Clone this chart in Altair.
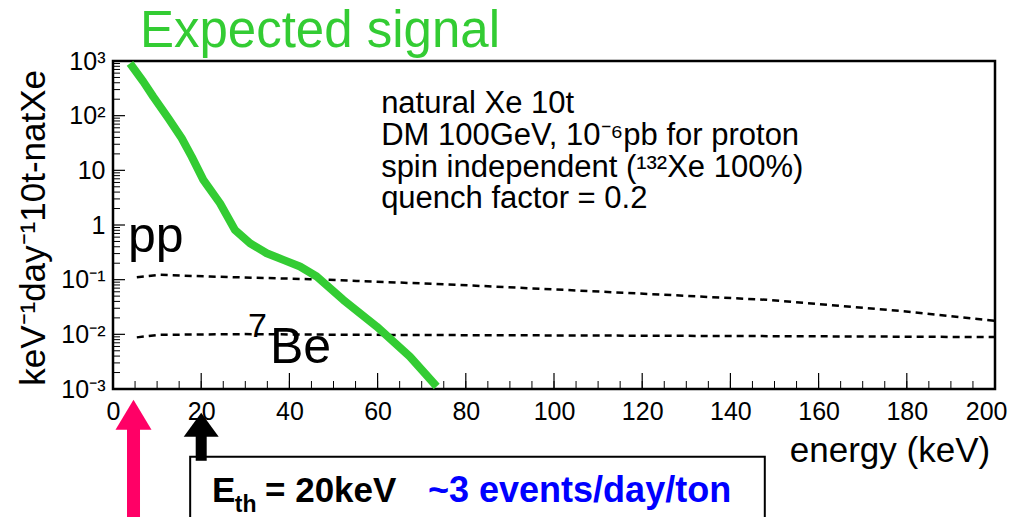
import altair as alt
import pandas as pd

FONT = "Liberation Sans"

# ---- data ----
sig_energy = [3.85, 6.87, 9.14, 12.55, 15.58, 17.84, 20.48, 24.26, 27.66, 31.07, 34.85,
              38.62, 42.4, 46.2, 52.2, 59.8, 67.3, 73.4]
sig_rate = [908, 419, 222, 89.5, 38.6, 17.8, 6.68, 2.50, 0.81, 0.464, 0.305,
            0.230, 0.174, 0.114, 0.0428, 0.0139, 0.00393, 0.00111]

pp_energy = [5.4, 10.7, 22, 44.7, 55.3, 78.7, 110.4, 148.2, 178.5, 200]
pp_rate = [0.111, 0.1225, 0.114, 0.102, 0.095, 0.080, 0.0605, 0.0428, 0.0269, 0.0177]

be_energy = [5.4, 10.7, 29.5, 55.3, 110.4, 160, 200]
be_rate = [0.0088, 0.0098, 0.0101, 0.0098, 0.0095, 0.0092, 0.0089]

x_tick_values = list(range(0, 201, 20))
x_minor_values = list(range(0, 201, 5))
y_tick_values = [1e-3, 1e-2, 1e-1, 1, 10, 100, 1000]
y_tick_labels = ["10⁻³", "10⁻²", "10⁻¹", "1", "10", "10²", "10³"]
y_minor_values = [k * 10.0 ** d for d in range(-3, 3) for k in range(2, 10)]

info_lines = ["natural Xe 10t", "DM 100GeV, 10⁻⁶pb for proton",
              "spin independent (¹³²Xe 100%)", "quench factor = 0.2"]
info_x = [60.8, 60.8, 60.8, 60.8]
info_y = [112, 29.1, 7.57, 2.06]

GREEN = "#33cc33"
PINK = "#ff0066"
BLUE = "#0000ff"

xs = alt.Scale(domain=[0, 200], nice=False, zero=False)
ys = alt.Scale(type="log", domain=[1e-3, 1e3], nice=False)

label_expr = "[" + ",".join(f"'{t}'" for t in y_tick_labels) + "][round(log(datum.value)/LN10)+3]"

x_axis = alt.Axis(
    values=x_tick_values, format="d", labelFontSize=25, labelFont=FONT, labelColor="black",
    labelPadding=10, labelFlush=False, labelOverlap=False, domain=False, ticks=False,
    grid=False, title=None,
    labelAlign={"condition": {"test": "datum.value == 200", "value": "right"}, "value": "center"},
    labelOffset={"condition": {"test": "datum.value == 200", "value": 12}, "value": 0},
)
y_axis = alt.Axis(
    values=y_tick_values, labelExpr=label_expr, labelFontSize=25, labelFont=FONT,
    labelColor="black", labelPadding=8, labelBaseline="middle", domain=False,
    ticks=False, grid=False, title=None, labelOverlap=False, labelFlush=False)


def X(field="x"):
    return alt.X(f"{field}:Q", scale=xs, axis=x_axis)


def Y(field="y"):
    return alt.Y(f"{field}:Q", scale=ys, axis=y_axis)


sig_df = pd.DataFrame({"x": sig_energy, "y": sig_rate})
pp_df = pd.DataFrame({"x": pp_energy, "y": pp_rate})
be_df = pd.DataFrame({"x": be_energy, "y": be_rate})

pp_line = alt.Chart(pp_df).mark_line(color="black", strokeWidth=2.5, strokeDash=[7, 5]).encode(x=X(), y=Y())
be_line = alt.Chart(be_df).mark_line(color="black", strokeWidth=2.5, strokeDash=[7, 5]).encode(x=X(), y=Y())
sig_line = alt.Chart(sig_df).mark_line(color=GREEN, strokeWidth=8, strokeCap="butt",
                                       strokeJoin="round").encode(x=X(), y=Y())

# ticks (inside the frame, ROOT-like)
y_major = alt.Chart(pd.DataFrame({"y": y_tick_values})).mark_rule(color="black", strokeWidth=1.2).encode(
    x=alt.value(0), x2=alt.value(12), y=Y())
y_minor = alt.Chart(pd.DataFrame({"y": y_minor_values})).mark_rule(color="black", strokeWidth=1).encode(
    x=alt.value(0), x2=alt.value(7), y=Y())
x_major = alt.Chart(pd.DataFrame({"x": x_tick_values})).mark_rule(color="black", strokeWidth=1.2).encode(
    x=X(), y=alt.value(328), y2=alt.value(312))
x_minor = alt.Chart(pd.DataFrame({"x": x_minor_values})).mark_rule(color="black", strokeWidth=1).encode(
    x=X(), y=alt.value(328), y2=alt.value(320))


def text_layer(xv, yv, texts, size, color="black", weight="normal", align="left",
               baseline="alphabetic", angle=0):
    df = pd.DataFrame({"x": xv, "y": yv, "t": texts})
    kw = dict(font=FONT, fontSize=size, color=color, fontWeight=weight, align=align,
              baseline=baseline)
    if angle:
        kw["angle"] = angle
    return alt.Chart(df).mark_text(**kw).encode(x=X(), y=Y(), text="t:N")


info = text_layer(info_x, info_y, info_lines, 31)
pp_lab = text_layer([3.4], [0.323], ["pp"], 50)
be7_lab = text_layer([30.6], [0.0090], ["7"], 34)
be_lab = text_layer([35.6], [0.0030], ["Be"], 50)
title = text_layer([6.1], [1800], ["Expected signal"], 51, color=GREEN)
xtitle = text_layer([198.9], [4.68e-5], ["energy (keV)"], 35, align="right")
ytitle = text_layer([-15.4], [0.885], ["keV⁻¹day⁻¹10t-natXe"], 35, align="center", angle=270)

# box with threshold text
box = alt.Chart(pd.DataFrame({"x": [17.5], "x2": [147.8], "y": [5.75e-5], "y2": [1.74e-6]})).mark_rect(
    fill="white", stroke="black", strokeWidth=2).encode(x=X(), x2="x2:Q", y=Y(), y2="y2:Q")
e_lab = text_layer([22.45], [10 ** -5.062], ["E"], 35, weight="bold")
th_lab = text_layer([27.6], [10 ** -5.25], ["th"], 23, weight="bold")
eq_lab = text_layer([34.47], [10 ** -5.062], ["= 20keV"], 35, weight="bold")
ev_lab = text_layer([71.43], [10 ** -5.062], ["~3 events/day/ton"], 36, color=BLUE, weight="bold")

# arrows
pink_shaft = alt.Chart(pd.DataFrame({"x": [4.65], "y": [10 ** -3.65], "y2": [10 ** -5.7]})).mark_rule(
    color=PINK, strokeWidth=13, strokeCap="butt").encode(x=X(), y=Y(), y2="y2:Q")
pink_head = alt.Chart(pd.DataFrame({"x": [4.65], "y": [10 ** -3.197]})).mark_point(
    shape="M0,0L1,1.667L-1,1.667Z", size=1296, filled=True, color=PINK, opacity=1,
    strokeWidth=0).encode(x=X(), y=Y())
black_shaft = alt.Chart(pd.DataFrame({"x": [20], "y": [10 ** -3.8], "y2": [10 ** -4.313]})).mark_rule(
    color="black", strokeWidth=11, strokeCap="butt").encode(x=X(), y=Y(), y2="y2:Q")
black_head = alt.Chart(pd.DataFrame({"x": [20], "y": [10 ** -3.435]})).mark_point(
    shape="M0,0L1,1.371L-1,1.371Z", size=1225, filled=True, color="black", opacity=1,
    strokeWidth=0).encode(x=X(), y=Y())

chart = alt.layer(
    pp_line, be_line, sig_line, y_minor, y_major, x_minor, x_major,
    info, pp_lab, be7_lab, be_lab, title, xtitle, ytitle,
    pink_shaft, pink_head, box, black_shaft, black_head,
    e_lab, th_lab, eq_lab, ev_lab,
).properties(
    width=882, height=328,
    autosize=alt.AutoSizeParams(type="none"),
    padding={"left": 105, "top": 53, "right": 14, "bottom": 128},
    background="white",
).configure_view(stroke="black", strokeWidth=2.5)

chart.save("out.html", embed_options={"renderer": "svg", "actions": False})
